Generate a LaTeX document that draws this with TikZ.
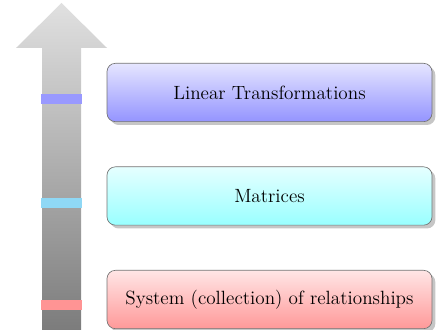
\documentclass[11pt,tikz,border=0pt]{standalone}
\usepackage{tikz}
\usetikzlibrary{shapes,arrows,positioning,shadows,calc}

\definecolor{barcyan}{RGB}{143,216,245}

\begin{document}
\begin{tikzpicture}[x=0.6pt,y=0.6pt,
    stage/.style={rectangle, rounded corners=5pt, draw=black!55, minimum width=195pt, minimum height=35pt, align=center, font=\fontsize{11.5}{14}\selectfont, drop shadow={shadow xshift=2pt, shadow yshift=-2pt, opacity=0.45}},
    tick/.style={rectangle, inner sep=0pt, minimum width=25pt, minimum height=6pt}]
    \useasboundingbox (0,0) rectangle (438,330);
    % rising arrow
    \shade[top color=black!12, bottom color=black!52] (42,-5) -- (42,282) -- (16,282) -- (61.5,327) -- (107,282) -- (81,282) -- (81,-5) -- cycle;
    \node[stage, top color=blue!10, bottom color=blue!42] (lintrans) at (269.5,237.5) {Linear Transformations};
    \node[stage, top color=cyan!10, bottom color=cyan!40] (matrices) at (269.5,134) {Matrices};
    \node[stage, top color=red!10, bottom color=red!40] (system) at (269.5,30.5) {System (collection) of relationships};
    \node[tick, fill=blue!40] (tlin) at (61.5,231) {};
    \node[tick, fill=barcyan] (tmat) at (61.5,127) {};
    \node[tick, fill=red!42] (tsys) at (61.5,25) {};
\end{tikzpicture}
\end{document}
